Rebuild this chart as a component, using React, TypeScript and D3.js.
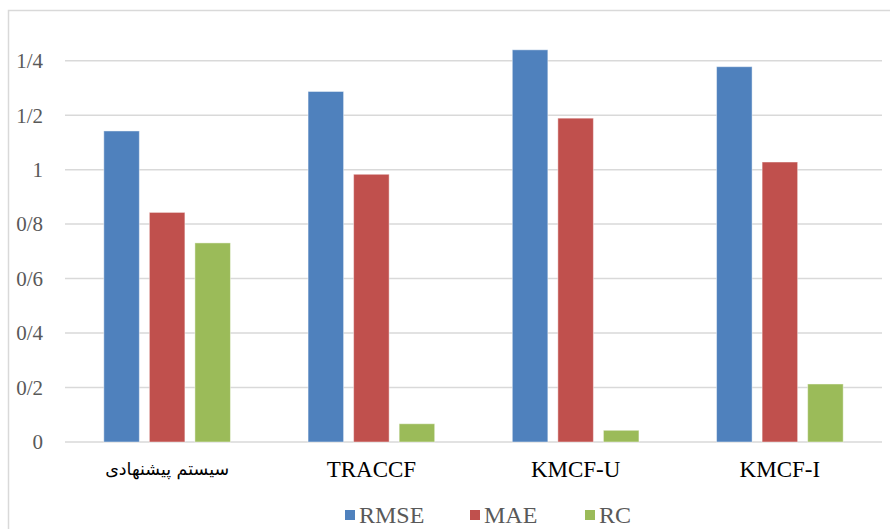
import React from "react";
import * as d3 from "d3";

const categories = ["سیستم پیشنهادی", "TRACCF", "KMCF-U", "KMCF-I"];
const seriesNames = ["RMSE", "MAE", "RC"];
const rmse = [1.142, 1.287, 1.44, 1.378];
const mae = [0.843, 0.983, 1.189, 1.028];
const rc = [0.731, 0.067, 0.043, 0.213];
const yTicks = [0, 0.2, 0.4, 0.6, 0.8, 1, 1.2, 1.4];
const colors = ["#4f81bd", "#c0504d", "#9bbb59"];

const W = 890;
const H = 529;
const SERIF = "'Liberation Serif', 'Times New Roman', serif";
const ARABIC = "'DejaVu Sans', 'Noto Sans', sans-serif";

// Persian decimal separator: 1.2 -> "1/2"
const fmt = (v: number) => {
  const s = d3.format("~g")(+v.toFixed(1));
  return s.replace(".", "/");
};

const isArabic = (s: string) => /[\u0600-\u06FF]/.test(s);

export default function App() {
  const series = [rmse, mae, rc];
  const x0 = d3.scaleBand<string>().domain(categories).range([65, 882]).paddingInner(0).paddingOuter(0);
  const groupInner = 0.62; // fraction of band used by bars
  const x1 = d3
    .scaleBand<string>()
    .domain(seriesNames)
    .range([0, x0.bandwidth() * groupInner])
    .paddingInner(0.22);
  const groupOffset = (x0.bandwidth() * (1 - groupInner)) / 2;
  const y = d3.scaleLinear().domain([0, 1.4]).range([442, 60.7]);

  const legendItems = [
    { name: "RMSE", x: 345 },
    { name: "MAE", x: 470 },
    { name: "RC", x: 585 },
  ];

  return (
    <svg
      width={W}
      height={H}
      style={{ position: "absolute", left: 0, top: 0, background: "#fff" }}
      fontFamily={SERIF}
    >
      <rect x={8.5} y={10.5} width={W + 20} height={H + 20} fill="#fff" stroke="#d9d9d9" strokeWidth={1.5} />
      {yTicks.map((t) => (
        <g key={t}>
          <line x1={65} x2={882} y1={y(t)} y2={y(t)} stroke="#d9d9d9" strokeWidth={1.5} />
          <text x={43} y={y(t)} dy="0.35em" textAnchor="end" fontSize={21} fill="#595959" fontFamily={SERIF}>
            {fmt(t)}
          </text>
        </g>
      ))}
      {categories.map((c, ci) => (
        <g key={c} transform={`translate(${(x0(c) ?? 0) + groupOffset},0)`}>
          {seriesNames.map((s, si) => {
            const v = series[si][ci];
            return (
              <rect
                key={s}
                x={x1(s)}
                y={y(v)}
                width={x1.bandwidth()}
                height={y(0) - y(v)}
                fill={colors[si]}
                stroke="#ffffff"
                strokeOpacity={0.45}
                strokeWidth={1}
              />
            );
          })}
        </g>
      ))}
      {categories.map((c) => (
        <text
          key={c}
          x={(x0(c) ?? 0) + x0.bandwidth() / 2}
          y={469}
          dy="0.35em"
          textAnchor="middle"
          fontSize={isArabic(c) ? 17.5 : 23}
          fill="#000"
          fontFamily={isArabic(c) ? ARABIC : SERIF}
        >
          {c}
        </text>
      ))}
      {legendItems.map((l, i) => (
        <g key={l.name}>
          <rect x={l.x} y={510} width={10} height={10} fill={colors[i]} />
          <text x={l.x + 14} y={515} dy="0.35em" fontSize={24} fill="#595959" fontFamily={SERIF}>
            {l.name}
          </text>
        </g>
      ))}
    </svg>
  );
}
